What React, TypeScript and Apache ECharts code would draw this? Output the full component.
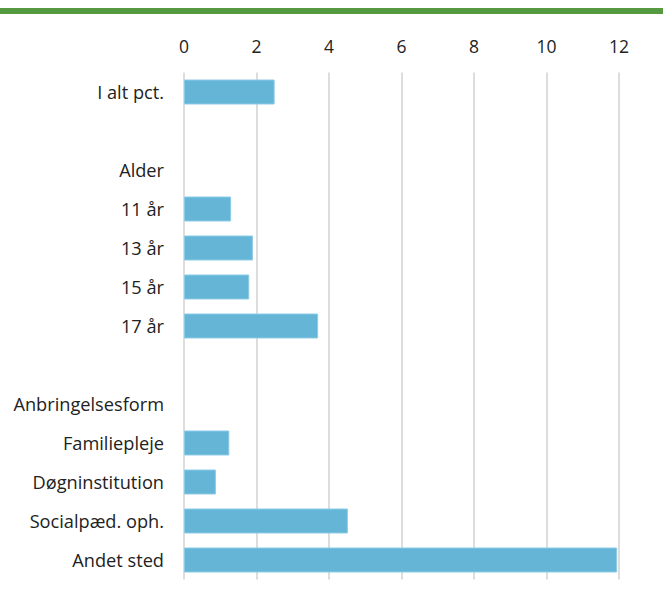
import React, { useEffect, useRef } from "react";
import * as echarts from "echarts";

const categories = [
  "I alt pct.",
  " ",
  "Alder",
  "11 år",
  "13 år",
  "15 år",
  "17 år",
  "  ",
  "Anbringelsesform",
  "Familiepleje",
  "Døgninstitution",
  "Socialpæd. oph.",
  "Andet sted",
];
const values: (number | null)[] = [2.5, null, null, 1.3, 1.9, 1.8, 3.7, null, null, 1.25, 0.88, 4.52, 11.95];
const xTicks = { min: 0, max: 12, interval: 2 };

const FONT = "Open Sans";

export default function App() {
  const ref = useRef<HTMLDivElement>(null);
  useEffect(() => {
    const chart = echarts.init(ref.current!, null, { renderer: "svg" });
    chart.setOption({
      animation: false,
      textStyle: { fontFamily: FONT },
      grid: { left: 184, right: 44, top: 72.5, bottom: 27.5 },
      xAxis: {
        type: "value",
        position: "top",
        min: xTicks.min,
        max: xTicks.max,
        interval: xTicks.interval,
        axisLine: { show: false },
        axisTick: { show: false },
        axisLabel: { color: "#222", fontSize: 17.5, margin: 18, fontFamily: FONT },
        splitLine: { lineStyle: { color: "#d2d2d2", width: 1.5 } },
      },
      yAxis: {
        type: "category",
        inverse: true,
        data: categories,
        axisLine: { show: false },
        axisTick: { show: false },
        axisLabel: { color: "#222", fontSize: 18.2, margin: 20, fontFamily: FONT },
      },
      series: [
        {
          type: "bar",
          data: values,
          barCategoryGap: "36%",
          itemStyle: { color: "#65b5d7", borderColor: "#8ccbe6", borderWidth: 1 },
        },
      ],
      graphic: [
        {
          type: "rect",
          left: 0,
          top: 8,
          shape: { width: 663, height: 6 },
          style: { fill: "#559a40" },
        },
      ],
    });
    return () => chart.dispose();
  }, []);
  return (
    <div
      ref={ref}
      style={{ position: "absolute", left: 0, top: 0, width: 663, height: 607, background: "#fff" }}
    />
  );
}
